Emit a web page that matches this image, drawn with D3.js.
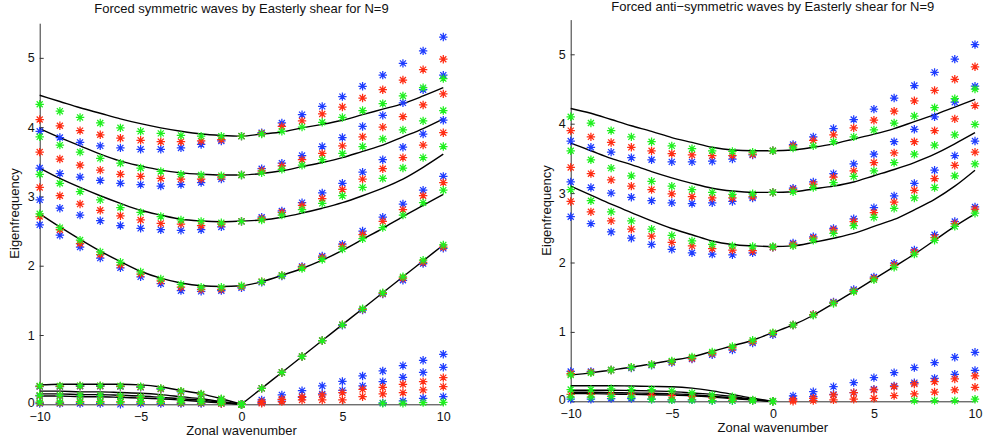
<!DOCTYPE html>
<html>
<head>
<meta charset="utf-8">
<script src="https://cdn.jsdelivr.net/npm/d3@7/dist/d3.min.js"></script>
<style>
  body { margin: 0; background: #fff; }
  svg { display: block; }
  text { font-family: "Liberation Sans", Arial, Helvetica, sans-serif; fill: #111; }
</style>
</head>
<body>
<svg id="chart" width="988" height="445"></svg>
<script>
// Zonal wavenumbers shared by every series
const wavenumbers = [-10, -9, -8, -7, -6, -5, -4, -3, -2, -1, 0, 1, 2, 3, 4, 5, 6, 7, 8, 9, 10];
const xTicks = [-10, -5, 0, 5, 10];
const yTicks = [0, 1, 2, 3, 4, 5];
const _ = null;

// ---------- Symmetric waves: theoretical dispersion curves ----------
const symCurve1 = [4.46, 4.37, 4.28, 4.20, 4.12, 4.05, 3.99, 3.94, 3.90, 3.88, 3.87, 3.90, 3.93, 3.99, 4.04, 4.10, 4.18, 4.26, 4.34, 4.45, 4.57];
const symCurve2 = [3.98, 3.85, 3.73, 3.61, 3.51, 3.44, 3.38, 3.34, 3.32, 3.31, 3.31, 3.33, 3.37, 3.43, 3.49, 3.56, 3.65, 3.74, 3.86, 3.98, 4.12];
const symCurve3 = [3.41, 3.26, 3.13, 3.01, 2.90, 2.80, 2.73, 2.67, 2.645, 2.635, 2.645, 2.66, 2.70, 2.76, 2.83, 2.91, 3.01, 3.12, 3.25, 3.42, 3.61];
const symCurve4 = [2.75, 2.56, 2.38, 2.21, 2.06, 1.92, 1.82, 1.75, 1.71, 1.70, 1.71, 1.77, 1.86, 1.96, 2.08, 2.22, 2.38, 2.54, 2.71, 2.87, 3.03];
const symKelvin = [_, _, _, _, _, _, _, _, _, _, 0, 0.23, 0.46, 0.69, 0.92, 1.15, 1.38, 1.61, 1.84, 2.07, 2.30];
const symLow1 = [0.28, 0.29, 0.29, 0.29, 0.29, 0.28, 0.25, 0.20, 0.15, 0.08, 0, _, _, _, _, _, _, _, _, _, _];
const symLow2 = [0.19, 0.19, 0.18, 0.18, 0.17, 0.16, 0.14, 0.11, 0.08, 0.04, 0, _, _, _, _, _, _, _, _, _, _];
const symLow3 = [0.15, 0.15, 0.14, 0.14, 0.13, 0.12, 0.10, 0.08, 0.06, 0.03, 0, _, _, _, _, _, _, _, _, _, _];
const symLow4 = [0.12, 0.12, 0.11, 0.11, 0.10, 0.09, 0.08, 0.06, 0.04, 0.02, 0, _, _, _, _, _, _, _, _, _, _];

// ---------- Symmetric waves: computed eigenfrequencies ----------
const symBlue1 = [3.94, 3.85, 3.78, 3.73, 3.70, 3.68, 3.68, 3.70, 3.75, 3.80, 3.87, 3.92, 4.06, 4.18, 4.30, 4.44, 4.59, 4.75, 4.92, 5.10, 5.30];
const symRed1 = [4.11, 4.02, 3.95, 3.89, 3.84, 3.81, 3.79, 3.79, 3.80, 3.82, 3.87, 3.91, 4.01, 4.09, 4.19, 4.29, 4.42, 4.54, 4.68, 4.83, 4.98];
const symGreen1 = [4.33, 4.23, 4.14, 4.06, 3.99, 3.94, 3.91, 3.88, 3.87, 3.87, 3.87, 3.90, 3.94, 4.00, 4.07, 4.14, 4.24, 4.34, 4.45, 4.57, 4.70];
const symBlue2 = [3.41, 3.33, 3.28, 3.23, 3.19, 3.17, 3.15, 3.17, 3.20, 3.25, 3.31, 3.40, 3.48, 3.59, 3.72, 3.85, 4.01, 4.17, 4.35, 4.54, 4.75];
const symRed2 = [3.64, 3.54, 3.45, 3.38, 3.32, 3.29, 3.26, 3.25, 3.25, 3.28, 3.31, 3.37, 3.44, 3.53, 3.62, 3.73, 3.86, 4.00, 4.15, 4.32, 4.48];
const symGreen2 = [3.86, 3.74, 3.64, 3.55, 3.48, 3.41, 3.36, 3.32, 3.31, 3.30, 3.31, 3.34, 3.39, 3.45, 3.53, 3.62, 3.72, 3.83, 3.96, 4.09, 4.24];
const symBlue3 = [2.95, 2.83, 2.73, 2.65, 2.58, 2.54, 2.52, 2.51, 2.52, 2.56, 2.64, 2.70, 2.79, 2.91, 3.05, 3.19, 3.35, 3.53, 3.71, 3.90, 4.10];
const symRed3 = [3.13, 3.01, 2.89, 2.80, 2.72, 2.66, 2.61, 2.60, 2.58, 2.60, 2.64, 2.68, 2.77, 2.87, 2.97, 3.10, 3.25, 3.40, 3.56, 3.74, 3.92];
const symGreen3 = [3.32, 3.19, 3.07, 2.95, 2.84, 2.77, 2.71, 2.66, 2.64, 2.62, 2.64, 2.66, 2.73, 2.81, 2.90, 3.01, 3.13, 3.26, 3.41, 3.56, 3.72];
const symBlue4 = [2.59, 2.44, 2.27, 2.11, 1.97, 1.84, 1.74, 1.64, 1.63, 1.64, 1.68, 1.76, 1.85, 1.99, 2.14, 2.31, 2.50, 2.70, 2.89, 3.09, 3.29];
const symRed4 = [2.71, 2.52, 2.32, 2.16, 2.01, 1.88, 1.78, 1.69, 1.66, 1.66, 1.70, 1.77, 1.86, 1.98, 2.12, 2.28, 2.45, 2.64, 2.81, 3.01, 3.20];
const symGreen4 = [2.75, 2.55, 2.37, 2.20, 2.05, 1.91, 1.81, 1.73, 1.69, 1.69, 1.71, 1.77, 1.86, 1.96, 2.09, 2.24, 2.39, 2.55, 2.73, 2.91, 3.09];
const symBlue5 = [_, _, _, _, _, _, _, _, _, _, 0, 0.23, 0.46, 0.69, 0.92, 1.14, 1.36, 1.59, 1.79, 2.03, 2.25];
const symRed5 = [_, _, _, _, _, _, _, _, _, _, 0, 0.23, 0.46, 0.69, 0.92, 1.15, 1.37, 1.60, 1.82, 2.05, 2.27];
const symGreen5 = [_, _, _, _, _, _, _, _, _, _, 0, 0.23, 0.46, 0.69, 0.92, 1.15, 1.38, 1.61, 1.84, 2.08, 2.30];
const symBlue6 = [0.255, 0.255, 0.26, 0.26, 0.255, 0.245, 0.22, 0.18, 0.14, 0.07, 0, _, _, _, _, _, _, _, _, _, _];
const symRed6 = [0.26, 0.26, 0.265, 0.265, 0.26, 0.25, 0.225, 0.185, 0.145, 0.075, 0, _, _, _, _, _, _, _, _, _, _];
const symGreen6 = [0.265, 0.265, 0.27, 0.27, 0.265, 0.255, 0.23, 0.19, 0.15, 0.08, 0, _, _, _, _, _, _, _, _, _, _];
const symBlue7 = [0.12, 0.12, 0.12, 0.12, 0.11, 0.10, 0.09, 0.07, 0.05, 0.03, 0, _, _, _, _, _, _, _, _, _, _];
const symRed7 = [0.125, 0.125, 0.125, 0.125, 0.115, 0.105, 0.095, 0.075, 0.055, 0.03, 0, _, _, _, _, _, _, _, _, _, _];
const symGreen7 = [0.13, 0.13, 0.13, 0.13, 0.12, 0.11, 0.10, 0.08, 0.06, 0.03, 0, _, _, _, _, _, _, _, _, _, _];
const symBlue8 = [0.01, 0.01, 0.01, 0.01, 0.0, 0.01, 0.01, 0.01, 0.01, 0.01, 0, _, _, _, _, _, _, _, _, _, _];
const symRed8 = [0.02, 0.02, 0.03, 0.03, 0.03, 0.03, 0.03, 0.02, 0.02, 0.01, 0, _, _, _, _, _, _, _, _, _, _];
const symGreen8 = [0.03, 0.03, 0.04, 0.04, 0.04, 0.04, 0.04, 0.03, 0.03, 0.02, 0, _, _, _, _, _, _, _, _, _, _];
const symBlue9 = [_, _, _, _, _, _, _, _, _, _, _, 0.063, 0.135, 0.197, 0.265, 0.33, 0.409, 0.481, 0.558, 0.635, 0.722];
const symBlue10 = [_, _, _, _, _, _, _, _, _, _, _, 0.024, 0.063, 0.10, 0.149, 0.20, 0.265, 0.327, 0.39, 0.46, 0.534];
const symBlue11 = [_, _, _, _, _, _, _, _, _, _, _, _, _, _, _, _, _, 0.02, 0.048, 0.087, 0.11];
const symRed9 = [_, _, _, _, _, _, _, _, _, _, _, 0.038, 0.072, 0.11, 0.135, 0.168, 0.216, 0.245, 0.289, 0.327, 0.385];
const symRed10 = [_, _, _, _, _, _, _, _, _, _, _, 0.014, 0.038, 0.063, 0.063, 0.063, 0.11, 0.149, 0.168, 0.207, 0.255];
const symGreen9 = [_, _, _, _, _, _, _, _, _, _, _, _, _, _, _, _, _, 0.014, 0.014, 0.024, 0.029];

// ---------- Anti-symmetric waves: theoretical dispersion curves ----------
const asymCurve1 = [4.22, 4.15, 4.06, 3.97, 3.89, 3.80, 3.73, 3.66, 3.62, 3.61, 3.61, 3.62, 3.66, 3.71, 3.78, 3.85, 3.93, 4.03, 4.13, 4.24, 4.35];
const asymCurve2 = [3.72, 3.61, 3.50, 3.41, 3.31, 3.22, 3.14, 3.07, 3.03, 3.01, 3.01, 3.02, 3.06, 3.10, 3.16, 3.25, 3.34, 3.44, 3.56, 3.71, 3.87];
const asymCurve3 = [3.10, 2.97, 2.84, 2.72, 2.60, 2.49, 2.40, 2.31, 2.26, 2.24, 2.23, 2.24, 2.29, 2.35, 2.42, 2.52, 2.62, 2.76, 2.91, 3.10, 3.33];
const asymMixed = [0.38, 0.41, 0.45, 0.49, 0.54, 0.59, 0.64, 0.72, 0.80, 0.88, 0.99, 1.10, 1.24, 1.41, 1.58, 1.76, 1.94, 2.12, 2.32, 2.52, 2.70];
const asymLow1 = [0.225, 0.225, 0.225, 0.22, 0.215, 0.21, 0.19, 0.15, 0.10, 0.045, 0, _, _, _, _, _, _, _, _, _, _];
const asymLow2 = [0.16, 0.16, 0.16, 0.155, 0.15, 0.14, 0.12, 0.10, 0.07, 0.03, 0, _, _, _, _, _, _, _, _, _, _];
const asymLow3 = [0.13, 0.13, 0.125, 0.12, 0.115, 0.11, 0.095, 0.075, 0.05, 0.025, 0, _, _, _, _, _, _, _, _, _, _];
const asymLow4 = [0.11, 0.11, 0.105, 0.10, 0.095, 0.09, 0.08, 0.06, 0.04, 0.02, 0, _, _, _, _, _, _, _, _, _, _];

// ---------- Anti-symmetric waves: computed eigenfrequencies ----------
const asymBlue1 = [3.75, 3.66, 3.59, 3.51, 3.48, 3.45, 3.45, 3.46, 3.49, 3.55, 3.61, 3.70, 3.81, 3.93, 4.06, 4.21, 4.37, 4.55, 4.74, 4.93, 5.14];
const asymRed1 = [3.90, 3.81, 3.73, 3.66, 3.61, 3.57, 3.55, 3.54, 3.54, 3.56, 3.61, 3.68, 3.76, 3.84, 3.94, 4.05, 4.18, 4.33, 4.48, 4.64, 4.82];
const asymGreen1 = [4.10, 4.01, 3.90, 3.81, 3.74, 3.68, 3.64, 3.61, 3.60, 3.59, 3.61, 3.65, 3.68, 3.74, 3.81, 3.91, 4.01, 4.11, 4.23, 4.36, 4.50];
const asymBlue2 = [3.16, 3.08, 3.00, 2.94, 2.89, 2.86, 2.85, 2.86, 2.88, 2.93, 3.01, 3.07, 3.16, 3.28, 3.42, 3.56, 3.74, 3.92, 4.10, 4.31, 4.54];
const asymRed2 = [3.37, 3.28, 3.19, 3.10, 3.05, 2.99, 2.95, 2.93, 2.93, 2.95, 3.01, 3.05, 3.13, 3.23, 3.32, 3.44, 3.58, 3.74, 3.90, 4.07, 4.26];
const asymGreen2 = [3.61, 3.48, 3.36, 3.25, 3.17, 3.10, 3.05, 3.01, 2.98, 2.99, 3.01, 3.02, 3.08, 3.15, 3.24, 3.32, 3.44, 3.56, 3.69, 3.84, 3.99];
const asymBlue3 = [2.66, 2.56, 2.44, 2.35, 2.26, 2.19, 2.14, 2.12, 2.11, 2.14, 2.22, 2.28, 2.37, 2.49, 2.63, 2.79, 2.96, 3.14, 3.33, 3.54, 3.75];
const asymRed3 = [2.88, 2.73, 2.60, 2.48, 2.38, 2.29, 2.24, 2.20, 2.18, 2.17, 2.22, 2.26, 2.35, 2.47, 2.59, 2.72, 2.87, 3.04, 3.21, 3.40, 3.59];
const asymGreen3 = [3.05, 2.89, 2.73, 2.60, 2.48, 2.39, 2.31, 2.26, 2.24, 2.23, 2.23, 2.24, 2.32, 2.42, 2.53, 2.65, 2.78, 2.93, 3.08, 3.25, 3.42];
const asymBlue4 = [0.43, 0.43, 0.45, 0.48, 0.52, 0.56, 0.61, 0.67, 0.74, 0.84, 0.96, 1.10, 1.25, 1.43, 1.61, 1.79, 1.99, 2.18, 2.40, 2.59, 2.80];
const asymRed4 = [0.40, 0.42, 0.45, 0.49, 0.53, 0.57, 0.62, 0.69, 0.77, 0.86, 0.98, 1.10, 1.25, 1.42, 1.59, 1.77, 1.96, 2.15, 2.36, 2.56, 2.77];
const asymGreen4 = [0.38, 0.41, 0.45, 0.49, 0.53, 0.58, 0.64, 0.71, 0.79, 0.88, 0.99, 1.10, 1.24, 1.41, 1.58, 1.75, 1.93, 2.12, 2.32, 2.52, 2.71];
const asymBlue5 = [0.03, 0.03, 0.04, 0.04, 0.03, 0.02, 0.02, 0.01, 0.01, 0.01, 0, _, _, _, _, _, _, _, _, _, _];
const asymRed5 = [0.10, 0.10, 0.10, 0.10, 0.09, 0.08, 0.07, 0.05, 0.035, 0.015, 0, _, _, _, _, _, _, _, _, _, _];
const asymGreen5 = [0.17, 0.17, 0.18, 0.17, 0.17, 0.15, 0.12, 0.09, 0.065, 0.02, 0, _, _, _, _, _, _, _, _, _, _];
const asymGreen6 = [0.06, 0.06, 0.07, 0.06, 0.03, 0.02, 0.02, 0.01, 0.01, 0.01, 0, _, _, _, _, _, _, _, _, _, _];
const asymBlue6 = [_, _, _, _, _, _, _, _, _, _, _, 0.077, 0.139, 0.211, 0.269, 0.341, 0.413, 0.485, 0.557, 0.634, 0.706];
const asymBlue7 = [_, _, _, _, _, _, _, _, _, _, _, 0.04, 0.067, 0.10, 0.125, 0.173, 0.221, 0.269, 0.331, 0.389, 0.446];
const asymRed6 = [_, _, _, _, _, _, _, _, _, _, _, 0.02, 0.043, 0.091, 0.125, 0.163, 0.211, 0.25, 0.283, 0.322, 0.365];
const asymRed7 = [_, _, _, _, _, _, _, _, _, _, _, 0.0, 0.01, 0.02, 0.03, 0.043, 0.082, 0.106, 0.134, 0.163, 0.202];
const asymGreen7 = [_, _, _, _, _, _, _, _, _, _, _, _, _, _, _, _, _, 0.01, 0.01, 0.01, 0.03];

// Marker colours
const BLUE = "#1e3cff", RED = "#ff2d14", GREEN = "#1ef01e";

const panels = [
  {
    title: "Forced symmetric waves by Easterly shear for N=9",
    left: 39.7, right: 443.3, bottom: 404.3, top: 23.2, titleY: 12.7, yLabelX: 19, yLabelY: 213.5,
    curves: [symCurve1, symCurve2, symCurve3, symCurve4, symKelvin, symLow1, symLow2, symLow3, symLow4],
    points: [
      [BLUE, [symBlue1, symBlue2, symBlue3, symBlue4, symBlue5, symBlue6, symBlue7, symBlue8, symBlue9, symBlue10, symBlue11]],
      [RED, [symRed1, symRed2, symRed3, symRed4, symRed5, symRed6, symRed7, symRed8, symRed9, symRed10]],
      [GREEN, [symGreen1, symGreen2, symGreen3, symGreen4, symGreen5, symGreen6, symGreen7, symGreen8, symGreen9]]
    ]
  },
  {
    title: "Forced anti\u2212symmetric waves by Easterly shear for N=9",
    left: 570.7, right: 975, bottom: 401.3, top: 19.6, titleY: 11, yLabelX: 550.5, yLabelY: 210.5,
    curves: [asymCurve1, asymCurve2, asymCurve3, asymMixed, asymLow1, asymLow2, asymLow3, asymLow4],
    points: [
      [BLUE, [asymBlue1, asymBlue2, asymBlue3, asymBlue4, asymBlue5, asymBlue6, asymBlue7]],
      [RED, [asymRed1, asymRed2, asymRed3, asymRed4, asymRed5, asymRed6, asymRed7]],
      [GREEN, [asymGreen1, asymGreen2, asymGreen3, asymGreen4, asymGreen5, asymGreen6, asymGreen7]]
    ]
  }
];

const svg = d3.select("#chart");
svg.append("rect").attr("width", 988).attr("height", 445).attr("fill", "#fff");

// Asterisk marker (MATLAB '*'): plus sign overlaid with a cross
const r = 4.2, d = r * 0.72;
const starPath = `M0,${-r}V${r}M${-r},0H${r}M${-d},${-d}L${d},${d}M${-d},${d}L${d},${-d}`;
const fmt = v => (v < 0 ? "\u2212" + Math.abs(v) : String(v));

panels.forEach(p => {
  const x = d3.scaleLinear().domain([-10, 10]).range([p.left, p.right]);
  const y = d3.scaleLinear().domain([0, 5.5]).range([p.bottom, p.top]);
  const g = svg.append("g");

  // Axes with inward ticks
  const yAxis = d3.axisLeft(y).tickValues(yTicks).tickFormat(fmt).tickSizeInner(-4).tickSizeOuter(0).tickPadding(5);
  const xAxis = d3.axisBottom(x).tickValues(xTicks).tickFormat(fmt).tickSizeInner(-4).tickSizeOuter(0).tickPadding(8);
  const ya = g.append("g").attr("transform", `translate(${p.left},0)`).call(yAxis);
  const xa = g.append("g").attr("transform", `translate(0,${p.bottom})`).call(xAxis);
  [ya, xa].forEach(a => {
    a.select(".domain").attr("stroke", "#333").attr("stroke-width", 1);
    a.selectAll(".tick line").attr("stroke", "#333");
    a.selectAll("text").attr("font-size", 12.5).attr("fill", "#111")
      .attr("font-family", '"Liberation Sans", Arial, sans-serif');
  });
  // the zero label sits slightly above its tick, clear of the x labels
  ya.selectAll(".tick text").filter(v => v === 0).attr("dy", "0.2em");

  // Theoretical curves
  const line = d3.line()
    .defined(v => v[1] !== null)
    .x(v => x(v[0])).y(v => y(v[1]))
    .curve(d3.curveMonotoneX);
  p.curves.forEach(c => {
    g.append("path")
      .datum(wavenumbers.map((k, i) => [k, c[i]]))
      .attr("d", line)
      .attr("fill", "none").attr("stroke", "#000").attr("stroke-width", 1.4);
  });

  // Computed eigenfrequencies as asterisks
  p.points.forEach(([color, series]) => {
    series.forEach(s => {
      g.append("g").selectAll("path")
        .data(wavenumbers.map((k, i) => [k, s[i]]).filter(v => v[1] !== null))
        .join("path")
        .attr("transform", v => `translate(${x(v[0])},${y(v[1])})`)
        .attr("d", starPath)
        .attr("fill", "none").attr("stroke", color).attr("stroke-width", 1.25);
    });
  });

  // Titles and axis labels
  g.append("text").attr("x", (p.left + p.right) / 2).attr("y", p.titleY)
    .attr("text-anchor", "middle").attr("font-size", 13).text(p.title);
  g.append("text").attr("x", (p.left + p.right) / 2).attr("y", p.bottom + 31)
    .attr("text-anchor", "middle").attr("font-size", 13).text("Zonal wavenumber");
  g.append("text").attr("transform", `translate(${p.yLabelX},${p.yLabelY}) rotate(-90)`)
    .attr("text-anchor", "middle").attr("font-size", 13).text("Eigenfrequency");
});
</script>
</body>
</html>
